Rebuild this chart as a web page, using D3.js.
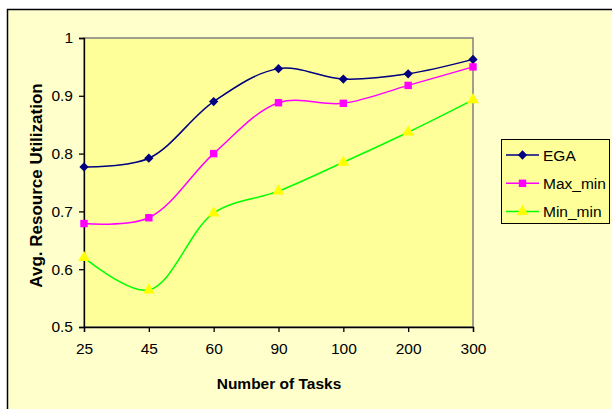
<!DOCTYPE html>
<html>
<head>
<meta charset="utf-8">
<script src="https://cdn.jsdelivr.net/npm/d3@7"></script>
<style>
  html, body { margin: 0; padding: 0; background: #ffffff; }
  svg { display: block; font-family: "Liberation Sans", Arial, sans-serif; }
</style>
</head>
<body>
<svg id="chart" width="612" height="409"></svg>
<script>
// Task counts on the category axis
const categories = ["25", "45", "60", "90", "100", "200", "300"];
// Average resource utilization per scheduling algorithm
const egaValues    = [0.777, 0.792, 0.890, 0.947, 0.929, 0.938, 0.963];
const maxMinValues = [0.679, 0.689, 0.800, 0.888, 0.887, 0.918, 0.950];
const minMinValues = [0.620, 0.564, 0.697, 0.735, 0.785, 0.837, 0.893];
const seriesNames  = ["EGA", "Max_min", "Min_min"];
const yTicks = [0.5, 0.6, 0.7, 0.8, 0.9, 1];

const series = [
  { name: seriesNames[0], values: egaValues,    line: "#000080", fill: "#000080", shape: d3.symbolDiamond2 },
  { name: seriesNames[1], values: maxMinValues, line: "#ff00ff", fill: "#ff00ff", shape: d3.symbolSquare },
  { name: seriesNames[2], values: minMinValues, line: "#00ff00", fill: "#ffff00", shape: d3.symbolTriangle }
];

const svg = d3.select("#chart");
const plot = { left: 84, top: 38, right: 473, bottom: 327 };

// chart area
svg.append("rect")
  .attr("x", 7.5).attr("y", 9.5).attr("width", 620).attr("height", 420)
  .attr("fill", "#ffffcc").attr("stroke", "#000").attr("stroke-width", 1.5);

// plot area
svg.append("rect")
  .attr("x", plot.left).attr("y", plot.top)
  .attr("width", plot.right - plot.left).attr("height", plot.bottom - plot.top)
  .attr("fill", "#ffff99").attr("stroke", "#808080").attr("stroke-width", 1.5);

const x = d3.scalePoint().domain(categories).range([plot.left, plot.right]).padding(0);
const y = d3.scaleLinear().domain([0.5, 1]).range([plot.bottom, plot.top]);

// axes
const xAxis = svg.append("g")
  .attr("transform", `translate(0,${plot.bottom})`)
  .call(d3.axisBottom(x).tickSize(5).tickPadding(11));
const yAxis = svg.append("g")
  .attr("transform", `translate(${plot.left},0)`)
  .call(d3.axisLeft(y).tickValues(yTicks).tickSize(5).tickPadding(6)
    .tickFormat(d => d === 1 ? "1" : d3.format(".1f")(d)));

[xAxis, yAxis].forEach(g => {
  g.select(".domain").attr("stroke", "#000").attr("stroke-width", 1.3);
  g.selectAll(".tick line").attr("stroke", "#000").attr("stroke-width", 1.3);
  g.selectAll(".tick text")
    .attr("fill", "#000")
    .style("font-family", "'Liberation Sans', Arial, sans-serif")
    .style("font-size", "15.5px");
});

// axis titles
svg.append("text")
  .attr("x", 279).attr("y", 389)
  .attr("text-anchor", "middle")
  .style("font-size", "15.5px").style("font-weight", "bold")
  .text("Number of Tasks");

svg.append("text")
  .attr("transform", `translate(42,185.5) rotate(-90)`)
  .attr("text-anchor", "middle")
  .style("font-size", "17px").style("font-weight", "bold")
  .text("Avg. Resource Utilization");

// smoothed series lines and markers
const lineGen = d3.line()
  .x((d, i) => x(categories[i]))
  .y(d => y(d))
  .curve(d3.curveCatmullRom.alpha(0.5));

series.forEach(s => {
  svg.append("path")
    .datum(s.values)
    .attr("d", lineGen)
    .attr("fill", "none")
    .attr("stroke", s.line)
    .attr("stroke-width", 1.5);

  svg.selectAll(null)
    .data(s.values)
    .enter().append("path")
    .attr("transform", (d, i) => `translate(${x(categories[i])},${y(d)})`)
    .attr("d", d3.symbol().type(s.shape).size(s.shape === d3.symbolTriangle ? 60 : 55))
    .attr("fill", s.fill)
    .attr("stroke", "none");
});

// legend
const legend = svg.append("g");
legend.append("rect")
  .attr("x", 501.5).attr("y", 139.5).attr("width", 108).attr("height", 84)
  .attr("fill", "#ffff99").attr("stroke", "#000").attr("stroke-width", 1);

series.forEach((s, i) => {
  const cy = 155 + i * 28.3;
  legend.append("line")
    .attr("x1", 506).attr("x2", 539).attr("y1", cy).attr("y2", cy)
    .attr("stroke", s.line).attr("stroke-width", 1.5);
  legend.append("path")
    .attr("transform", `translate(522.5,${cy})`)
    .attr("d", d3.symbol().type(s.shape).size(s.shape === d3.symbolTriangle ? 60 : 55))
    .attr("fill", s.fill);
  legend.append("text")
    .attr("x", 543).attr("y", cy + 5.5)
    .style("font-size", "15.5px")
    .text(s.name);
});
</script>
</body>
</html>
